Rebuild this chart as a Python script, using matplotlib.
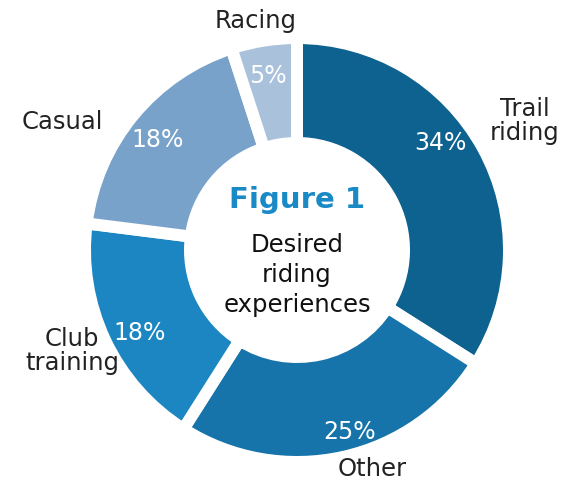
import matplotlib
matplotlib.use("Agg")
import matplotlib.pyplot as plt

# ---- data ----
categories = ["Trail riding", "Other", "Club training", "Casual", "Racing"]
shares = [34, 25, 18, 18, 5]
pct_labels = ["34%", "25%", "18%", "18%", "5%"]
cat_labels = ["Trail\nriding", "Other", "Club\ntraining", "Casual", "Racing"]

# ---- style / layout ----
colors = ["#0d6290", "#1674aa", "#1b86c1", "#79a2cb", "#a9c1da"]
W, H = 566, 489
cx, cy = 297, H - 251
r_out, r_in = 206, 113
gap_px = 12
pct_pos = [(440, 143), (350, 432), (140, 333), (158, 140), (268, 76)]
cat_pos = [(525, 121), (372, 469), (72, 351), (62, 122), (256, 21)]

plt.rcParams['font.family'] = ['DejaVu Sans']
fig = plt.figure(figsize=(W / 100, H / 100), dpi=100)
ax = fig.add_axes([0, 0, 1, 1])

lw_pt = gap_px * 72 / 100
ax.pie(shares, colors=colors, startangle=90, counterclock=False,
       center=(cx, cy), radius=r_out + gap_px / 2,
       wedgeprops=dict(width=(r_out - r_in) + gap_px, edgecolor='white',
                       linewidth=lw_pt))
ax.set_xlim(0, W)
ax.set_ylim(0, H)
ax.set_aspect('equal')
ax.axis('off')

for (x, y), t in zip(pct_pos, pct_labels):
    ax.text(x, H - y, t, color='white', fontsize=17, ha='center', va='center')
for (x, y), t in zip(cat_pos, cat_labels):
    ax.text(x, H - y, t, color='#222222', fontsize=17.5, ha='center',
            va='center', linespacing=1.05)

ax.text(cx, H - 200, "Figure 1", color='#1a8ac6', fontsize=21,
        fontweight='bold', ha='center', va='center')
ax.text(cx, H - 275, "Desired\nriding\nexperiences", color='#111111',
        fontsize=17.5, ha='center', va='center', linespacing=1.3)

fig.savefig("out.png", dpi=100)
